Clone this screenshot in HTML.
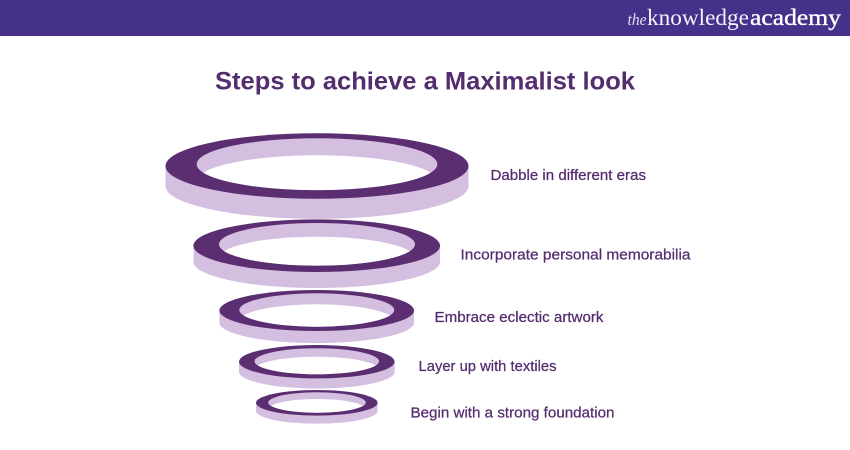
<!DOCTYPE html>
<html>
<head>
<meta charset="utf-8">
<style>
html,body{margin:0;padding:0;background:#fff;width:850px;height:450px;overflow:hidden}
svg{display:block}
text{font-family:"Liberation Sans",sans-serif}
.l{font-size:14.8px;fill:#552c6f;stroke:#552c6f;stroke-width:.25px}
.s{font-family:"Liberation Serif",serif}
</style>
</head>
<body>
<svg width="850" height="450" viewBox="0 0 850 450" xmlns="http://www.w3.org/2000/svg">
<defs>
<clipPath id="h1"><ellipse cx="317" cy="164.2" rx="120.3" ry="25.9"/></clipPath>
<clipPath id="h2"><ellipse cx="317" cy="244.3" rx="98" ry="21.3"/></clipPath>
<clipPath id="h3"><ellipse cx="316.8" cy="310" rx="77.5" ry="16.7"/></clipPath>
<clipPath id="h4"><ellipse cx="316.8" cy="361.3" rx="62.3" ry="13"/></clipPath>
<clipPath id="h5"><ellipse cx="317" cy="402.5" rx="48.8" ry="10.2"/></clipPath>
</defs>
<rect width="850" height="450" fill="#fff"/>
<rect width="850" height="36" fill="#45318a"/>
<text class="s" x="627.5" y="25" font-size="17" font-style="italic" fill="#e0daee" textLength="19" lengthAdjust="spacingAndGlyphs">the</text>
<text class="s" x="647" y="25" font-size="23" fill="#f4f2f9" textLength="102" lengthAdjust="spacingAndGlyphs">knowledge</text>
<text class="s" x="750" y="25" font-size="23" fill="#fff" stroke="#fff" stroke-width=".35" textLength="91" lengthAdjust="spacingAndGlyphs">academy</text>
<text x="215" y="89.5" font-size="25px" font-weight="bold" fill="#532d6d" textLength="420" lengthAdjust="spacingAndGlyphs">Steps to achieve a Maximalist look</text>

<!-- Ring 1 -->
<path d="M165.5 166V186A151.5 32.7 0 0 0 468.5 186V166Z" fill="#d5bfe0"/>
<ellipse cx="317" cy="186" rx="151.5" ry="32.7" fill="#d5bfe0"/>
<ellipse cx="317" cy="166" rx="151.5" ry="32.7" fill="#5b2e72"/>
<ellipse cx="317" cy="164.2" rx="120.3" ry="25.9" fill="#d5bfe0"/>
<ellipse cx="317" cy="181.2" rx="120.3" ry="25.9" fill="#fff" clip-path="url(#h1)"/>

<!-- Ring 2 -->
<path d="M193.5 245.7V261.7A123.3 26.3 0 0 0 440 261.7V245.7Z" fill="#d5bfe0"/>
<ellipse cx="316.7" cy="261.7" rx="123.3" ry="26.3" fill="#d5bfe0"/>
<ellipse cx="316.7" cy="245.7" rx="123.3" ry="26.3" fill="#5b2e72"/>
<ellipse cx="317" cy="244.3" rx="98" ry="21.3" fill="#d5bfe0"/>
<ellipse cx="317" cy="258" rx="98" ry="21.3" fill="#fff" clip-path="url(#h2)"/>

<!-- Ring 3 -->
<path d="M219.4 310.5V322.5A97.3 20.5 0 0 0 414 322.5V310.5Z" fill="#d5bfe0"/>
<ellipse cx="316.7" cy="322.5" rx="97.3" ry="20.5" fill="#d5bfe0"/>
<ellipse cx="316.7" cy="310.5" rx="97.3" ry="20.5" fill="#5b2e72"/>
<ellipse cx="316.8" cy="310" rx="77.5" ry="16.7" fill="#d5bfe0"/>
<ellipse cx="316.8" cy="321" rx="77.5" ry="16.7" fill="#fff" clip-path="url(#h3)"/>

<!-- Ring 4 -->
<path d="M239 361.7V371.7A77.8 16.7 0 0 0 394.6 371.7V361.7Z" fill="#d5bfe0"/>
<ellipse cx="316.8" cy="371.7" rx="77.8" ry="16.7" fill="#d5bfe0"/>
<ellipse cx="316.8" cy="361.7" rx="77.8" ry="16.7" fill="#5b2e72"/>
<ellipse cx="316.8" cy="361.3" rx="62.3" ry="13" fill="#d5bfe0"/>
<ellipse cx="316.8" cy="369.7" rx="62.3" ry="13" fill="#fff" clip-path="url(#h4)"/>

<!-- Ring 5 -->
<path d="M256 402.8V410.8A60.8 12.8 0 0 0 377.6 410.8V402.8Z" fill="#d5bfe0"/>
<ellipse cx="316.8" cy="410.8" rx="60.8" ry="12.8" fill="#d5bfe0"/>
<ellipse cx="316.8" cy="402.8" rx="60.8" ry="12.8" fill="#5b2e72"/>
<ellipse cx="317" cy="402.5" rx="48.8" ry="10.2" fill="#d5bfe0"/>
<ellipse cx="317" cy="409.2" rx="48.8" ry="10.2" fill="#fff" clip-path="url(#h5)"/>

<text class="l" x="490.5" y="180" textLength="155.5" lengthAdjust="spacingAndGlyphs">Dabble in different eras</text>
<text class="l" x="460.5" y="259.3" textLength="230" lengthAdjust="spacingAndGlyphs">Incorporate personal memorabilia</text>
<text class="l" x="434.5" y="322" textLength="169" lengthAdjust="spacingAndGlyphs">Embrace eclectic artwork</text>
<text class="l" x="418.5" y="371" textLength="138" lengthAdjust="spacingAndGlyphs">Layer up with textiles</text>
<text class="l" x="410.5" y="417.3" textLength="204" lengthAdjust="spacingAndGlyphs">Begin with a strong foundation</text>
</svg>
</body>
</html>
